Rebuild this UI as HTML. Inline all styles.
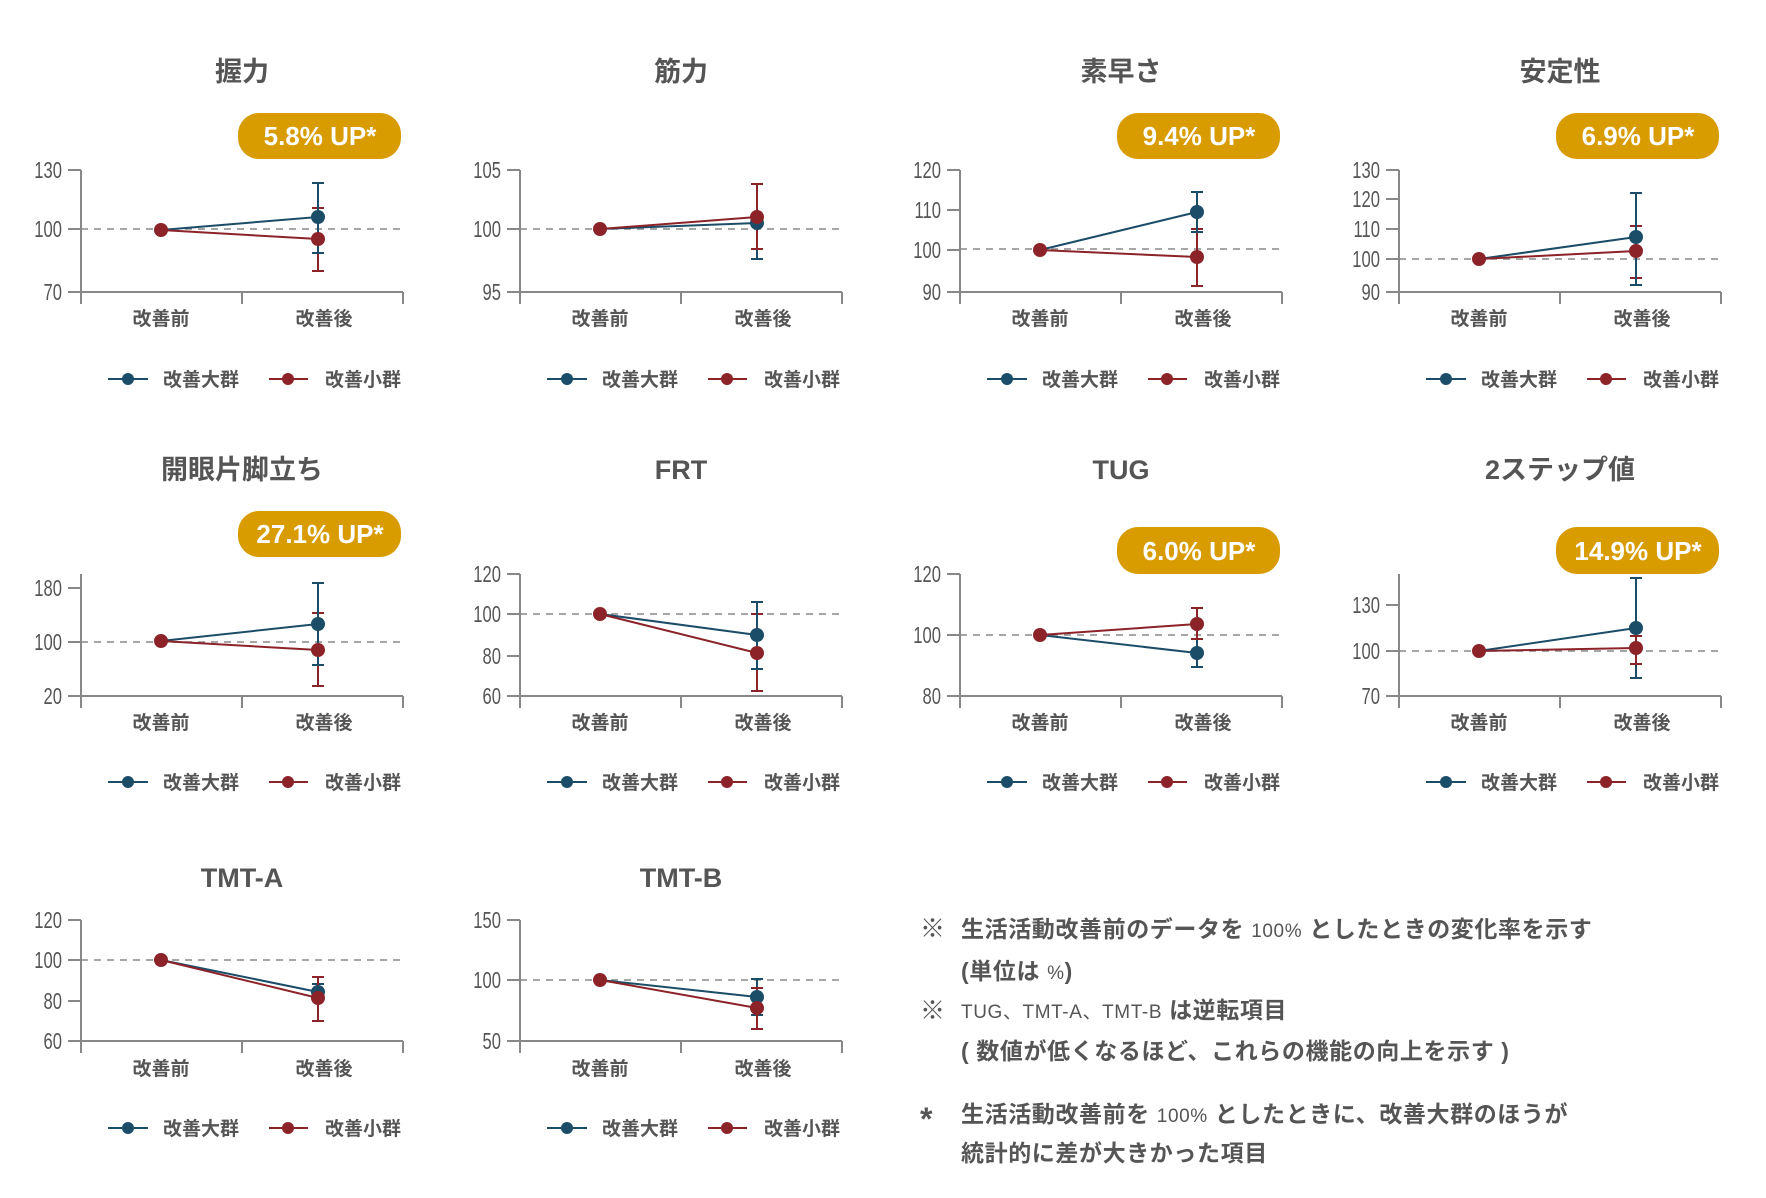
<!DOCTYPE html>
<html><head><meta charset="utf-8">
<style>
html,body{margin:0;padding:0;background:#fff;}
svg{display:block;}
text{font-family:"Liberation Sans","Noto Sans CJK JP",sans-serif;}
.tt{font-size:27px;fill:#555;font-weight:bold;text-anchor:middle;}
.tk{font-size:23px;fill:#555;text-anchor:end;}
.cat{font-size:19px;fill:#555;text-anchor:middle;font-weight:bold;}
.lg{font-size:19px;fill:#555;font-weight:bold;}
.bd{font-size:26px;fill:#fff;font-weight:bold;text-anchor:middle;}
.ax{stroke:#888;stroke-width:2;fill:none;}
.da{stroke:#888;stroke-width:1.5;stroke-dasharray:7 6;}
.b{stroke:#1b4d68;stroke-width:2;fill:none;}
.r{stroke:#8b2329;stroke-width:2;fill:none;}
.bf{fill:#1b4d68;}
.rf{fill:#8b2329;}
.nt{font-size:23px;fill:#555;font-weight:bold;letter-spacing:0.6px;}
</style></head><body>
<svg width="1766" height="1198" viewBox="0 0 1766 1198" xmlns="http://www.w3.org/2000/svg">

<!-- 握力 -->
<g transform="translate(0,0)">
<text class="tt" x="242" y="81">握力</text>
<rect x="238" y="113" width="163" height="46" rx="21" fill="#d89b00"/><text class="bd" x="320" y="145">5.8% UP*</text>
<path class="ax" d="M81 170V304M68 170H81M68 229H81M68 292H403M242 292V304M403 292V304"/>
<g transform="scale(0.72,1)"><text class="tk" x="86" y="178">130</text><text class="tk" x="86" y="237">100</text><text class="tk" x="86" y="300">70</text></g>
<line class="da" x1="81" y1="229" x2="403" y2="229"/>
<path class="r" d="M318 208V271M312 208H324M312 271H324"/>
<path class="b" d="M318 183V253M312 183H324M312 253H324"/>
<path class="b" d="M161 230L318 217"/><path class="r" d="M161 230L318 239"/>
<circle class="bf" cx="318" cy="217" r="7"/><circle class="rf" cx="318" cy="239" r="7"/><circle class="rf" cx="161" cy="230" r="7"/>
<text class="cat" x="161" y="325">改善前</text><text class="cat" x="324" y="325">改善後</text>
<path class="b" d="M108 379H148"/><circle class="bf" cx="128" cy="379" r="6"/><text class="lg" x="163" y="386">改善大群</text>
<path class="r" d="M269 379H308"/><circle class="rf" cx="288" cy="379" r="6"/><text class="lg" x="325" y="386">改善小群</text>
</g>

<!-- 筋力 -->
<g transform="translate(439,0)">
<text class="tt" x="242" y="81">筋力</text>
<path class="ax" d="M81 170V304M68 170H81M68 229H81M68 292H403M242 292V304M403 292V304"/>
<g transform="scale(0.72,1)"><text class="tk" x="86" y="178">105</text><text class="tk" x="86" y="237">100</text><text class="tk" x="86" y="300">95</text></g>
<line class="da" x1="81" y1="229" x2="403" y2="229"/>
<path class="b" d="M318 210V259M312 259H324"/>
<path class="r" d="M318 184V249M312 184H324M312 249H324"/>
<path class="b" d="M161 229L318 223"/><path class="r" d="M161 229L318 217"/>
<circle class="bf" cx="318" cy="223" r="7"/><circle class="rf" cx="318" cy="217" r="7"/><circle class="rf" cx="161" cy="229" r="7"/>
<text class="cat" x="161" y="325">改善前</text><text class="cat" x="324" y="325">改善後</text>
<path class="b" d="M108 379H148"/><circle class="bf" cx="128" cy="379" r="6"/><text class="lg" x="163" y="386">改善大群</text>
<path class="r" d="M269 379H308"/><circle class="rf" cx="288" cy="379" r="6"/><text class="lg" x="325" y="386">改善小群</text>
</g>

<!-- 素早さ -->
<g transform="translate(879,0)">
<text class="tt" x="242" y="81">素早さ</text>
<rect x="238" y="113" width="163" height="46" rx="21" fill="#d89b00"/><text class="bd" x="320" y="145">9.4% UP*</text>
<path class="ax" d="M81 170V304M68 170H81M68 210H81M68 250H81M68 292H403M242 292V304M403 292V304"/>
<g transform="scale(0.72,1)"><text class="tk" x="86" y="178">120</text><text class="tk" x="86" y="218">110</text><text class="tk" x="86" y="258">100</text><text class="tk" x="86" y="300">90</text></g>
<line class="da" x1="81" y1="249" x2="403" y2="249"/>
<path class="r" d="M318 229V286M312 229H324M312 286H324"/>
<path class="b" d="M318 192V232M312 192H324M312 232H324"/>
<path class="b" d="M161 250L318 212"/><path class="r" d="M161 250L318 257"/>
<circle class="bf" cx="318" cy="212" r="7"/><circle class="rf" cx="318" cy="257" r="7"/><circle class="rf" cx="161" cy="250" r="7"/>
<text class="cat" x="161" y="325">改善前</text><text class="cat" x="324" y="325">改善後</text>
<path class="b" d="M108 379H148"/><circle class="bf" cx="128" cy="379" r="6"/><text class="lg" x="163" y="386">改善大群</text>
<path class="r" d="M269 379H308"/><circle class="rf" cx="288" cy="379" r="6"/><text class="lg" x="325" y="386">改善小群</text>
</g>

<!-- 安定性 -->
<g transform="translate(1318,0)">
<text class="tt" x="242" y="81">安定性</text>
<rect x="238" y="113" width="163" height="46" rx="21" fill="#d89b00"/><text class="bd" x="320" y="145">6.9% UP*</text>
<path class="ax" d="M81 170V304M68 170H81M68 199H81M68 229H81M68 259H81M68 292H403M242 292V304M403 292V304"/>
<g transform="scale(0.72,1)"><text class="tk" x="86" y="178">130</text><text class="tk" x="86" y="207">120</text><text class="tk" x="86" y="237">110</text><text class="tk" x="86" y="267">100</text><text class="tk" x="86" y="300">90</text></g>
<line class="da" x1="81" y1="259" x2="403" y2="259"/>
<path class="r" d="M318 226V278M312 226H324M312 278H324"/>
<path class="b" d="M318 193V285M312 193H324M312 285H324"/>
<path class="b" d="M161 259L318 237"/><path class="r" d="M161 259L318 251"/>
<circle class="bf" cx="318" cy="237" r="7"/><circle class="rf" cx="318" cy="251" r="7"/><circle class="rf" cx="161" cy="259" r="7"/>
<text class="cat" x="161" y="325">改善前</text><text class="cat" x="324" y="325">改善後</text>
<path class="b" d="M108 379H148"/><circle class="bf" cx="128" cy="379" r="6"/><text class="lg" x="163" y="386">改善大群</text>
<path class="r" d="M269 379H308"/><circle class="rf" cx="288" cy="379" r="6"/><text class="lg" x="325" y="386">改善小群</text>
</g>

<!-- 開眼片脚立ち -->
<g transform="translate(0,0)">
<text class="tt" x="242" y="479">開眼片脚立ち</text>
<rect x="238" y="511" width="163" height="46" rx="21" fill="#d89b00"/><text class="bd" x="320" y="543">27.1% UP*</text>
<path class="ax" d="M81 574V708M68 588H81M68 642H81M68 696H403M242 696V708M403 696V708"/>
<g transform="scale(0.72,1)"><text class="tk" x="86" y="596">180</text><text class="tk" x="86" y="650">100</text><text class="tk" x="86" y="704">20</text></g>
<line class="da" x1="81" y1="642" x2="403" y2="642"/>
<path class="r" d="M318 613V686M312 613H324M312 686H324"/>
<path class="b" d="M318 583V665M312 583H324M312 665H324"/>
<path class="b" d="M161 641L318 624"/><path class="r" d="M161 641L318 650"/>
<circle class="bf" cx="318" cy="624" r="7"/><circle class="rf" cx="318" cy="650" r="7"/><circle class="rf" cx="161" cy="641" r="7"/>
<text class="cat" x="161" y="729">改善前</text><text class="cat" x="324" y="729">改善後</text>
<path class="b" d="M108 782H148"/><circle class="bf" cx="128" cy="782" r="6"/><text class="lg" x="163" y="789">改善大群</text>
<path class="r" d="M269 782H308"/><circle class="rf" cx="288" cy="782" r="6"/><text class="lg" x="325" y="789">改善小群</text>
</g>

<!-- FRT -->
<g transform="translate(439,0)">
<text class="tt" x="242" y="479">FRT</text>
<path class="ax" d="M81 574V708M68 574H81M68 614H81M68 656H81M68 696H403M242 696V708M403 696V708"/>
<g transform="scale(0.72,1)"><text class="tk" x="86" y="582">120</text><text class="tk" x="86" y="622">100</text><text class="tk" x="86" y="664">80</text><text class="tk" x="86" y="704">60</text></g>
<line class="da" x1="81" y1="614" x2="403" y2="614"/>
<path class="r" d="M318 614V691M312 614H324M312 691H324"/>
<path class="b" d="M318 602V669M312 602H324M312 669H324"/>
<path class="b" d="M161 614L318 635"/><path class="r" d="M161 614L318 653"/>
<circle class="bf" cx="318" cy="635" r="7"/><circle class="rf" cx="318" cy="653" r="7"/><circle class="rf" cx="161" cy="614" r="7"/>
<text class="cat" x="161" y="729">改善前</text><text class="cat" x="324" y="729">改善後</text>
<path class="b" d="M108 782H148"/><circle class="bf" cx="128" cy="782" r="6"/><text class="lg" x="163" y="789">改善大群</text>
<path class="r" d="M269 782H308"/><circle class="rf" cx="288" cy="782" r="6"/><text class="lg" x="325" y="789">改善小群</text>
</g>

<!-- TUG -->
<g transform="translate(879,0)">
<text class="tt" x="242" y="479">TUG</text>
<rect x="238" y="527" width="163" height="47" rx="21" fill="#d89b00"/><text class="bd" x="320" y="560">6.0% UP*</text>
<path class="ax" d="M81 574V708M68 574H81M68 635H81M68 696H403M242 696V708M403 696V708"/>
<g transform="scale(0.72,1)"><text class="tk" x="86" y="582">120</text><text class="tk" x="86" y="643">100</text><text class="tk" x="86" y="704">80</text></g>
<line class="da" x1="81" y1="635" x2="403" y2="635"/>
<path class="b" d="M318 639V667M312 667H324"/>
<path class="r" d="M318 608V639M312 608H324M312 639H324"/>
<path class="b" d="M161 635L318 653"/><path class="r" d="M161 635L318 624"/>
<circle class="bf" cx="318" cy="653" r="7"/><circle class="rf" cx="318" cy="624" r="7"/><circle class="rf" cx="161" cy="635" r="7"/>
<text class="cat" x="161" y="729">改善前</text><text class="cat" x="324" y="729">改善後</text>
<path class="b" d="M108 782H148"/><circle class="bf" cx="128" cy="782" r="6"/><text class="lg" x="163" y="789">改善大群</text>
<path class="r" d="M269 782H308"/><circle class="rf" cx="288" cy="782" r="6"/><text class="lg" x="325" y="789">改善小群</text>
</g>

<!-- 2ステップ値 -->
<g transform="translate(1318,0)">
<text class="tt" x="242" y="479">2ステップ値</text>
<rect x="238" y="527" width="163" height="47" rx="21" fill="#d89b00"/><text class="bd" x="320" y="560">14.9% UP*</text>
<path class="ax" d="M81 574V708M68 605H81M68 651H81M68 696H403M242 696V708M403 696V708"/>
<g transform="scale(0.72,1)"><text class="tk" x="86" y="613">130</text><text class="tk" x="86" y="659">100</text><text class="tk" x="86" y="704">70</text></g>
<line class="da" x1="81" y1="651" x2="403" y2="651"/>
<path class="b" d="M318 578V678M312 578H324M312 678H324"/>
<path class="r" d="M318 636V664M312 636H324M312 664H324"/>
<path class="b" d="M161 651L318 628"/><path class="r" d="M161 651L318 648"/>
<circle class="bf" cx="318" cy="628" r="7"/><circle class="rf" cx="318" cy="648" r="7"/><circle class="rf" cx="161" cy="651" r="7"/>
<text class="cat" x="161" y="729">改善前</text><text class="cat" x="324" y="729">改善後</text>
<path class="b" d="M108 782H148"/><circle class="bf" cx="128" cy="782" r="6"/><text class="lg" x="163" y="789">改善大群</text>
<path class="r" d="M269 782H308"/><circle class="rf" cx="288" cy="782" r="6"/><text class="lg" x="325" y="789">改善小群</text>
</g>

<!-- TMT-A -->
<g transform="translate(0,0)">
<text class="tt" x="242" y="887">TMT-A</text>
<path class="ax" d="M81 920V1053M68 920H81M68 960H81M68 1001H81M68 1041H403M242 1041V1053M403 1041V1053"/>
<g transform="scale(0.72,1)"><text class="tk" x="86" y="928">120</text><text class="tk" x="86" y="968">100</text><text class="tk" x="86" y="1009">80</text><text class="tk" x="86" y="1049">60</text></g>
<line class="da" x1="81" y1="960" x2="403" y2="960"/>
<path class="b" d="M318 984V1000M312 984H324"/>
<path class="r" d="M318 977V1021M312 977H324M312 1021H324"/>
<path class="b" d="M161 960L318 992"/><path class="r" d="M161 960L318 998"/>
<circle class="bf" cx="318" cy="992" r="7"/><circle class="rf" cx="318" cy="998" r="7"/><circle class="rf" cx="161" cy="960" r="7"/>
<text class="cat" x="161" y="1075">改善前</text><text class="cat" x="324" y="1075">改善後</text>
<path class="b" d="M108 1128H148"/><circle class="bf" cx="128" cy="1128" r="6"/><text class="lg" x="163" y="1135">改善大群</text>
<path class="r" d="M269 1128H308"/><circle class="rf" cx="288" cy="1128" r="6"/><text class="lg" x="325" y="1135">改善小群</text>
</g>

<!-- TMT-B -->
<g transform="translate(439,0)">
<text class="tt" x="242" y="887">TMT-B</text>
<path class="ax" d="M81 920V1053M68 920H81M68 980H81M68 1041H403M242 1041V1053M403 1041V1053"/>
<g transform="scale(0.72,1)"><text class="tk" x="86" y="928">150</text><text class="tk" x="86" y="988">100</text><text class="tk" x="86" y="1049">50</text></g>
<line class="da" x1="81" y1="980" x2="403" y2="980"/>
<path class="b" d="M318 979V1015M312 979H324M312 1015H324"/>
<path class="r" d="M318 988V1029M312 988H324M312 1029H324"/>
<path class="b" d="M161 980L318 997"/><path class="r" d="M161 980L318 1008"/>
<circle class="bf" cx="318" cy="997" r="7"/><circle class="rf" cx="318" cy="1008" r="7"/><circle class="rf" cx="161" cy="980" r="7"/>
<text class="cat" x="161" y="1075">改善前</text><text class="cat" x="324" y="1075">改善後</text>
<path class="b" d="M108 1128H148"/><circle class="bf" cx="128" cy="1128" r="6"/><text class="lg" x="163" y="1135">改善大群</text>
<path class="r" d="M269 1128H308"/><circle class="rf" cx="288" cy="1128" r="6"/><text class="lg" x="325" y="1135">改善小群</text>
</g>

<!-- Notes -->
<text class="nt" x="920" y="937" style="font-size:25px">※</text>
<text class="nt" x="961" y="937">生活活動改善前のデータを <tspan style="font-size:19px;font-weight:normal">100%</tspan> としたときの変化率を示す</text>
<text class="nt" x="961" y="979">(単位は <tspan style="font-size:19px;font-weight:normal">%</tspan>)</text>
<text class="nt" x="920" y="1019" style="font-size:25px">※</text>
<text class="nt" x="961" y="1018"><tspan style="font-size:19px;font-weight:normal">TUG、TMT-A、TMT-B</tspan> は逆転項目</text>
<text class="nt" x="961" y="1059">( 数値が低くなるほど、これらの機能の向上を示す )</text>
<text class="nt" x="920" y="1130" style="font-size:32px">*</text>
<text class="nt" x="961" y="1122">生活活動改善前を <tspan style="font-size:19px;font-weight:normal">100%</tspan> としたときに、改善大群のほうが</text>
<text class="nt" x="961" y="1161">統計的に差が大きかった項目</text>
</svg>
</body></html>
